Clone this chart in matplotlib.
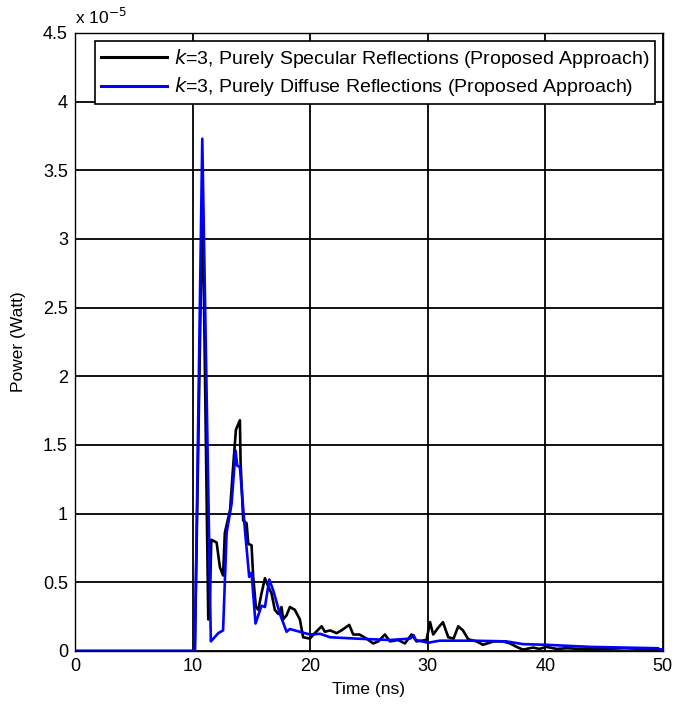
import matplotlib
matplotlib.use('Agg')
import matplotlib.pyplot as plt

plt.rcParams['font.family'] = ['Liberation Sans', 'DejaVu Sans']

# values, power in units of 1e-5 W
t_spec = [0, 10.2, 10.85, 11.34, 11.45, 11.6, 12.05, 12.33, 12.6, 12.75, 13.2, 13.41,
          13.69, 14.03, 14.09, 14.31, 14.6, 14.74, 15.02, 15.16, 15.39, 15.59, 15.87,
          16.16, 16.44, 16.72, 17.0, 17.29, 17.57, 17.71, 18.0, 18.28, 18.7, 19.13,
          19.41, 19.98, 20.4, 20.98, 21.26, 21.7, 22.25, 22.67, 23.33, 23.67, 24.2,
          24.8, 25.37, 25.8, 26.36, 26.8, 27.49, 28.06, 28.63, 29.05, 29.9, 30.2,
          30.47, 30.9, 31.3, 31.75, 32.2, 32.6, 33.0, 33.45, 34.15, 34.7, 35.6, 36.4,
          37.0, 37.56, 38.1, 38.97, 39.5, 40.1, 40.97, 41.8, 43.8, 46.7, 49.6, 50]
p_spec = [0, 0, 3.35, 0.23, 0.3, 0.81, 0.79, 0.61, 0.55, 0.86, 1.03, 1.29,
          1.61, 1.68, 1.37, 0.95, 0.93, 0.78, 0.77, 0.54, 0.32, 0.30, 0.42,
          0.53, 0.47, 0.42, 0.30, 0.27, 0.32, 0.23, 0.26, 0.32, 0.30, 0.23,
          0.10, 0.09, 0.13, 0.18, 0.14, 0.15, 0.13, 0.15, 0.19, 0.12, 0.12,
          0.09, 0.055, 0.07, 0.12, 0.07, 0.08, 0.055, 0.12, 0.07, 0.08, 0.21,
          0.12, 0.17, 0.21, 0.10, 0.09, 0.18, 0.15, 0.085, 0.07, 0.045, 0.07, 0.07,
          0.055, 0.03, 0.01, 0.025, 0.015, 0.03, 0.015, 0.02, 0.012, 0.02, 0.012, 0.01]

t_diff = [0, 10.2, 10.83, 11.56, 12.19, 12.6, 12.9, 13.32, 13.66, 13.8, 14.03, 14.46,
          14.82, 15.02, 15.36, 15.87, 16.16, 16.53, 16.87, 17.43, 18.0, 18.28, 18.7,
          19.13, 19.98, 20.85, 21.7, 23.95, 26.8, 28.5, 28.8, 29.0, 30.04, 31.0, 33.9,
          36.7, 38.1, 40.1, 43.8, 46.7, 49.6, 49.9, 50]
p_diff = [0, 0, 3.73, 0.07, 0.13, 0.15, 0.86, 1.07, 1.46, 1.35, 1.34, 0.88,
          0.54, 0.57, 0.20, 0.33, 0.32, 0.52, 0.44, 0.27, 0.14, 0.16, 0.15,
          0.14, 0.12, 0.125, 0.10, 0.09, 0.08, 0.09, 0.115, 0.08, 0.06, 0.075, 0.075,
          0.07, 0.05, 0.045, 0.03, 0.025, 0.02, 0.0, 0.01]

x_ticks = [0, 10, 20, 30, 40, 50]
y_ticks = [0, 0.5, 1, 1.5, 2, 2.5, 3, 3.5, 4, 4.5]
y_labels = ['0', '0.5', '1', '1.5', '2', '2.5', '3', '3.5', '4', '4.5']

lbl_spec = '$k$=3, Purely Specular Reflections (Proposed Approach)'
lbl_diff = '$k$=3, Purely Diffuse Reflections (Proposed Approach)'

fig = plt.figure(figsize=(6.75, 7.11), dpi=100)
ax = fig.add_axes([0.111, 0.0844, 0.871, 0.8692])

ax.plot(t_spec, p_spec, color='black', lw=1.9, label=lbl_spec)
ax.plot(t_diff, p_diff, color='#0000ff', lw=1.9, label=lbl_diff)

ax.set_xlim(0, 50)
ax.set_ylim(0, 4.5)
ax.set_xticks(x_ticks)
ax.set_yticks(y_ticks)
ax.set_yticklabels(y_labels)
ax.tick_params(labelsize=13, direction='in', length=0, pad=5)
ax.grid(True, color='black', lw=1.3, ls='-')
for s in ax.spines.values():
    s.set_linewidth(1.0)

ax.set_xlabel('Time (ns)', fontsize=12.5, labelpad=5)
ax.set_ylabel('Power (Watt)', fontsize=12.5, labelpad=12)
ax.text(0.0, 1.01, r'x 10$^{-5}$', transform=ax.transAxes, fontsize=12.5,
        ha='left', va='bottom')

leg = ax.legend(loc='upper right', fontsize=14, handlelength=3.4, frameon=True,
                fancybox=False, edgecolor='black', framealpha=1,
                borderaxespad=0.4, borderpad=0.3, labelspacing=0.3, handletextpad=0.35)
leg.get_frame().set_linewidth(1.2)
for line in leg.get_lines():
    line.set_linewidth(2.2)

fig.savefig('out.png', dpi=100)
